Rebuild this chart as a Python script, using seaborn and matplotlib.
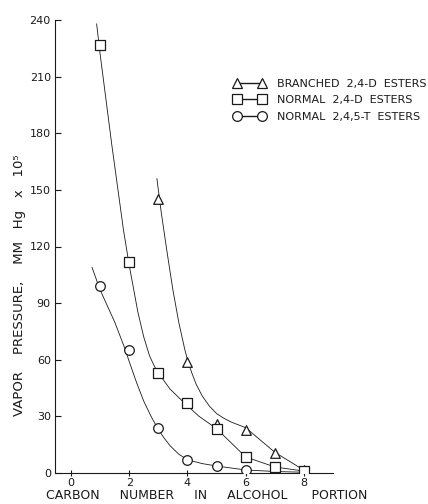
import matplotlib
matplotlib.use("Agg")
import matplotlib.pyplot as plt
import seaborn as sns
from matplotlib.lines import Line2D

# Pontos medidos (carbono no álcool vs pressão de vapor)
carbon_branched = [3, 4, 5, 6, 7, 8]
vp_branched = [145, 59, 26, 23, 10.5, 1.5]
carbon_24d = [1, 2, 3, 4, 5, 6, 7, 8]
vp_24d = [227, 112, 53, 37, 23.5, 8.5, 3.2, 1.0]
carbon_245t = [1, 2, 3, 4, 5, 6]
vp_245t = [99, 65, 24, 7, 3.7, 1.6]

# Curvas desenhadas à mão
curve_branched_x = [2.95, 3.1, 3.3, 3.5, 3.7, 3.9, 4.0, 4.15, 4.3, 4.5, 4.75, 5.0, 5.25, 5.5, 6.0, 7.0, 8.0]
curve_branched_y = [156, 138, 117, 97, 80, 66, 60, 53, 47, 41, 35.5, 31.5, 29, 27, 24, 11, 1.5]
curve_24d_x = [0.88, 1.0, 1.4, 1.8, 2.0, 2.3, 2.5, 2.7, 2.85, 3.0, 3.4, 3.9, 4.4, 5.0, 6.0, 7.0, 8.0]
curve_24d_y = [238, 222, 174, 129, 110, 85, 72, 62, 57, 53, 44.5, 37, 30, 23.5, 8.5, 3.2, 1.0]
curve_245t_x = [0.72, 1.0, 1.5, 1.85, 2.0, 2.25, 2.5, 2.75, 3.0, 3.2, 3.4, 3.7, 4.0, 4.5, 5.0, 6.0, 7.0, 8.0]
curve_245t_y = [109, 97, 80, 66, 59, 48, 38, 30, 23, 18.5, 14.5, 10, 7, 5, 3.7, 1.6, 0.8, 0.4]

labels = ["BRANCHED  2,4-D  ESTERS", "NORMAL  2,4-D  ESTERS", "NORMAL  2,4,5-T  ESTERS"]
x_ticks = [0, 2, 4, 6, 8]
y_ticks = [0, 30, 60, 90, 120, 150, 180, 210, 240]

sns.set_style("ticks")
plt.rcParams["font.family"] = ["DejaVu Sans"]

ink = "#1a1a1a"
fig = plt.figure(figsize=(4.28, 5.04), dpi=100)
ax = fig.add_axes([55 / 428, 31 / 504, 278 / 428, 453 / 504])

for cx, cy in [(curve_branched_x, curve_branched_y),
               (curve_24d_x, curve_24d_y),
               (curve_245t_x, curve_245t_y)]:
    sns.lineplot(x=cx, y=cy, ax=ax, color=ink, linewidth=0.6, sort=False, zorder=2)

estilo = dict(ax=ax, s=48, facecolor="white", edgecolor=ink, linewidth=0.9, zorder=3)
sns.scatterplot(x=carbon_branched, y=vp_branched, marker="^", **estilo)
sns.scatterplot(x=carbon_24d, y=vp_24d, marker="s", **estilo)
sns.scatterplot(x=carbon_245t, y=vp_245t, marker="o", **estilo)

ax.set_xlim(-0.55, 9.0)
ax.set_ylim(0, 240)
ax.set_xticks(x_ticks)
ax.set_yticks(y_ticks)
ax.tick_params(axis="y", direction="in", length=4, width=0.8, labelsize=8, pad=3, colors=ink)
ax.tick_params(axis="x", direction="inout", length=5, width=0.8, labelsize=8, pad=1, colors=ink)
for s in ["top", "right"]:
    ax.spines[s].set_visible(False)
for s in ["left", "bottom"]:
    ax.spines[s].set_linewidth(0.8)
    ax.spines[s].set_color(ink)

ax.set_xlabel("CARBON     NUMBER     IN     ALCOHOL      PORTION", fontsize=9, color=ink)
ax.xaxis.set_label_coords(0.545, -0.035)
ax.set_ylabel("VAPOR    PRESSURE,    MM   Hg   x   10⁵", fontsize=9.5, color=ink)
ax.yaxis.set_label_coords(-0.105, 0.415)

handles = [Line2D([], [], color=ink, linewidth=1.0, marker=m, markersize=7,
                  markerfacecolor="white", markeredgecolor=ink, markeredgewidth=0.9)
           for m in ["^", "s", "o"]]
ax.legend(handles, labels, loc="upper left", bbox_to_anchor=(228.5 / 428, 1 - 73 / 504),
          bbox_transform=fig.transFigure, frameon=False, fontsize=8, numpoints=2,
          handlelength=2.85, handletextpad=1.05, labelspacing=0.6, borderpad=0,
          labelcolor=ink)

fig.savefig("out.png", dpi=100)
